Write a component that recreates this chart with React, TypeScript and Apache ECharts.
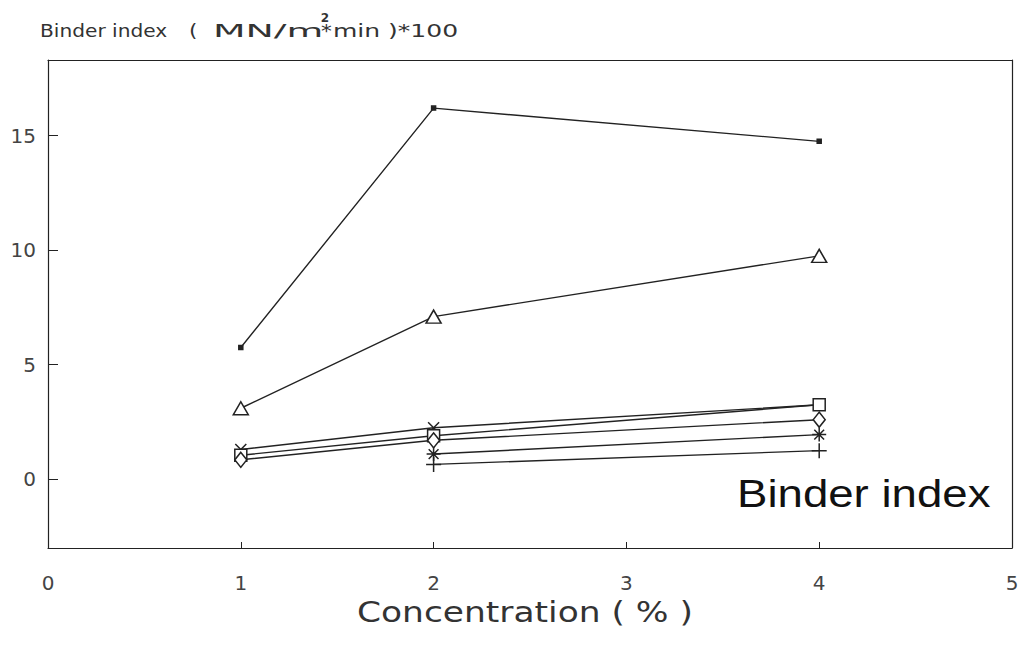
import React, { useEffect, useRef } from "react";
import * as echarts from "echarts";

const concentrations = [1, 2, 4];
const xTickLabels = [0, 1, 2, 3, 4, 5];
const yTickValues = [0, 5, 10, 15];

const dotValues = [5.75, 16.2, 14.75];
const triangleValues = [3.1, 7.1, 9.75];
const crossValues = [1.3, 2.25, 3.25];
const squareValues = [1.05, 1.9, 3.25];
const diamondValues = [0.85, 1.7, 2.6];
const starValues: (number | null)[] = [null, 1.1, 1.95];
const plusValues: (number | null)[] = [null, 0.65, 1.25];

const INK = "#222";

const X_PATH = "path://M0 0L10 10M10 0L0 10";
const STAR_PATH = "path://M5 0L5 10M0 5L10 5M1.5 1.5L8.5 8.5M8.5 1.5L1.5 8.5";
const PLUS_PATH = "path://M5 0L5 10M0 5L10 5";

function pairs(values: (number | null)[]) {
  const out: [number, number][] = [];
  values.forEach((v, i) => {
    if (v !== null) out.push([concentrations[i], v]);
  });
  return out;
}

function makeSeries(name: string, values: (number | null)[], symbol: string, size: number | number[], filled = false) {
  return {
    name,
    type: "line",
    data: pairs(values),
    symbol,
    symbolSize: size,
    showSymbol: true,
    lineStyle: { color: INK, width: 1.4 },
    itemStyle: {
      color: filled ? INK : "#fff",
      borderColor: INK,
      borderWidth: 1.5,
    },
    z: 3,
  };
}

export default function App() {
  const ref = useRef<HTMLDivElement>(null);
  useEffect(() => {
    if (!ref.current) return;
    const chart = echarts.init(ref.current, null, { renderer: "svg" });
    const font = "DejaVu Sans";
    const titleStyle = { fontSize: 18, fontFamily: font, fill: "#333", verticalAlign: "middle" };
    const frameAxis = {
      axisLine: { show: true, onZero: false, lineStyle: { color: INK, width: 1.2 } },
      axisTick: { show: false },
      axisLabel: { show: false },
      splitLine: { show: false },
    };
    chart.setOption({
      animation: false,
      backgroundColor: "#fff",
      grid: {
        left: 48,
        right: 13,
        top: 60,
        bottom: 99,
        containLabel: false,
        outerBoundsMode: "none",
      },
      xAxis: [
        {
          type: "value",
          min: 0,
          max: 5,
          interval: 1,
          axisLine: { show: true, onZero: false, lineStyle: { color: INK, width: 1.2 } },
          axisTick: { show: true, inside: true, length: 6, lineStyle: { color: INK } },
          axisLabel: {
            show: true,
            margin: 25,
            fontSize: 20,
            fontFamily: font,
            color: "#444",
            formatter: (v: number) => (xTickLabels.includes(v) ? String(v) : ""),
          },
          splitLine: { show: false },
        },
        { type: "value", position: "top", min: 0, max: 5, interval: 1, ...frameAxis },
      ],
      yAxis: [
        {
          type: "value",
          min: -3,
          max: 18.3,
          axisLine: { show: true, onZero: false, lineStyle: { color: INK, width: 1.2 } },
          axisTick: {
            show: true,
            inside: true,
            length: 10,
            customValues: yTickValues,
            lineStyle: { color: INK },
          },
          axisLabel: {
            show: true,
            customValues: yTickValues,
            margin: 12,
            fontSize: 20,
            fontFamily: font,
            color: "#444",
          },
          splitLine: { show: false },
        },
        { type: "value", position: "right", min: -3, max: 18.3, ...frameAxis },
      ],
      series: [
        makeSeries("dot", dotValues, "rect", 4, true),
        makeSeries("triangle", triangleValues, "triangle", [15, 13]),
        makeSeries("cross", crossValues, X_PATH, 11),
        makeSeries("square", squareValues, "rect", 12),
        makeSeries("diamond", diamondValues, "diamond", [12, 15]),
        makeSeries("star", starValues, STAR_PATH, 14),
        makeSeries("plus", plusValues, PLUS_PATH, 15),
      ],
      graphic: [
        { type: "text", x: 40, y: 31, scaleX: 1.12, style: { ...titleStyle, text: "Binder index" } },
        { type: "text", x: 189, y: 31, scaleX: 1.2, style: { ...titleStyle, text: "(" } },
        { type: "text", x: 213, y: 31, scaleX: 2.1, style: { ...titleStyle, text: "MN/m" } },
        { type: "text", x: 321, y: 31, scaleX: 1.2, style: { ...titleStyle, text: "*" } },
        { type: "text", x: 333, y: 31, scaleX: 1.39, style: { ...titleStyle, text: "min )*100" } },
        {
          type: "text",
          x: 325,
          y: 18,
          style: { text: "2", fontSize: 12, fontWeight: "bold", fontFamily: font, fill: "#333", align: "center", verticalAlign: "middle" },
        },
        {
          type: "text",
          x: 357,
          y: 612,
          scaleX: 1.23,
          style: { text: "Concentration ( % )", fontSize: 28, fontFamily: font, fill: "#333", verticalAlign: "middle" },
        },
        {
          type: "text",
          x: 737,
          y: 494,
          scaleX: 1.2,
          style: { text: "Binder index", fontSize: 38, fontFamily: "Liberation Sans", fill: "#111", verticalAlign: "middle" },
        },
      ],
    });
    return () => chart.dispose();
  }, []);
  return <div ref={ref} style={{ position: "fixed", left: 0, top: 0, width: 1025, height: 647 }} />;
}
